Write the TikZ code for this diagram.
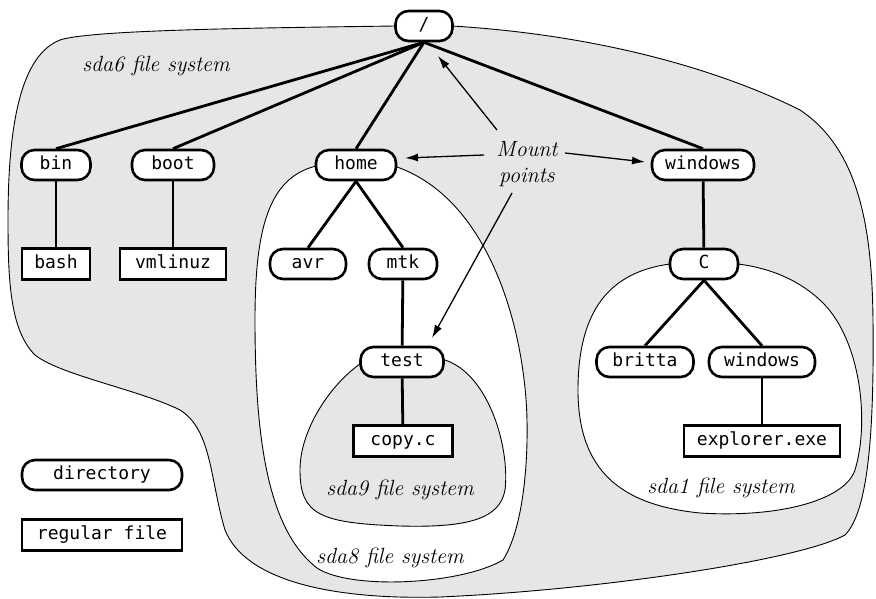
\documentclass[tikz,border=0pt]{standalone}
\usepackage{fontspec}
\newfontfamily\monof{DejaVu Sans Mono}
\usetikzlibrary{arrows.meta}
\definecolor{fsgray}{RGB}{230,230,230}
\begin{document}
\begin{tikzpicture}[x=1pt,y=-1pt,
  dir/.style={draw, line width=2.6pt, fill=white, rounded corners=13pt, minimum height=30pt,
    inner sep=0pt, text height=12.5pt, text depth=3.5pt, font=\monof\fontsize{18}{21}\selectfont},
  file/.style={draw, line width=2.6pt, fill=white, minimum height=31pt,
    inner sep=0pt, text height=12.5pt, text depth=3.5pt, font=\monof\fontsize{18}{21}\selectfont},
  edge/.style={line width=2.8pt},
  region/.style={draw, line width=0.9pt},
  lab/.style={font=\fontsize{22}{26}\selectfont\itshape},
  mp/.style={line width=1.3pt, -{Latex[length=13pt,width=8pt]}}]
\useasboundingbox (0,0) rectangle (876,599);

% file system regions
\path[region, fill=fsgray] (452,26)
  .. controls (600,35) and (720,70) .. (800,110)
  .. controls (860,150) and (872,230) .. (873,320)
  .. controls (874,420) and (870,510) .. (845,535)
  .. controls (800,560) and (600,590) .. (440,597)
  .. controls (330,600) and (245,580) .. (225,530)
  .. controls (210,480) and (212,430) .. (180,410)
  .. controls (140,390) and (60,375) .. (35,355)
  .. controls (10,330) and (8,280) .. (8,220)
  .. controls (8,120) and (22,55) .. (60,40)
  .. controls (90,30) and (250,28) .. (395,26) -- cycle;
\path[region, fill=white] (316,166)
  .. controls (268,178) and (255,230) .. (255,320)
  .. controls (255,440) and (268,530) .. (317,568)
  .. controls (350,590) and (460,585) .. (503,560)
  .. controls (522,530) and (528,470) .. (527,420)
  .. controls (525,330) and (490,200) .. (397,167) -- cycle;
\path[region, fill=fsgray] (360,364)
  .. controls (330,385) and (300,430) .. (300,470)
  .. controls (300,515) and (320,523) .. (400,526)
  .. controls (470,528) and (500,518) .. (505,490)
  .. controls (510,450) and (490,375) .. (445,360) -- cycle;
\path[region, fill=white] (670,264)
  .. controls (610,272) and (578,310) .. (578,390)
  .. controls (578,470) and (620,505) .. (700,513)
  .. controls (780,518) and (845,500) .. (855,470)
  .. controls (870,420) and (860,340) .. (823,303)
  .. controls (800,280) and (770,268) .. (738,264) -- cycle;

% nodes
\node[dir, minimum width=57pt] (root) at (424,26) {/};
\node[dir, minimum width=69pt] (bin) at (56,165) {bin};
\node[dir, minimum width=82pt] (boot) at (173,165) {boot};
\node[dir, minimum width=80pt] (home) at (356,165) {home};
\node[dir, minimum width=102pt] (win) at (703,165) {windows};
\node[file, minimum width=68pt] (bash) at (56,264) {bash};
\node[file, minimum width=106pt] (vmlinuz) at (173,264) {vmlinuz};
\node[dir, minimum width=76pt] (avr) at (308,264) {avr};
\node[dir, minimum width=68pt] (mtk) at (403,264) {mtk};
\node[dir, minimum width=68pt] (C) at (704,264) {C};
\node[dir, minimum width=83pt] (test) at (402,362) {test};
\node[dir, minimum width=97pt] (britta) at (645,362) {britta};
\node[dir, minimum width=106pt] (win2) at (762,362) {windows};
\node[file, minimum width=99pt] (copyc) at (403,441) {copy.c};
\node[file, minimum width=156pt] (explorer) at (762,441) {explorer.exe};
\node[dir, minimum width=160pt] (legdir) at (102,475) {directory};
\node[file, minimum width=160pt] (legfile) at (102,535) {regular file};

% tree edges
\draw[edge] (root.south) -- (bin.north);
\draw[edge] (root.south) -- (boot.north);
\draw[edge] (root.south) -- (home.north);
\draw[edge] (root.south) -- (win.north);
\draw[edge] (bin) -- (bash);
\draw[edge] (boot) -- (vmlinuz);
\draw[edge] (home.south) -- (avr.north);
\draw[edge] (home.south) -- (mtk.north);
\draw[edge] (mtk) -- (test);
\draw[edge] (test) -- (copyc);
\draw[edge] (win) -- (C);
\draw[edge] (C.south) -- (britta.north);
\draw[edge] (C.south) -- (win2.north);
\draw[edge] (win2) -- (explorer);

% labels
\node[lab] (l6) at (156,66) {sda6 file system};
\node[lab] (l9) at (400,490) {sda9 file system};
\node[lab] (l8) at (390,558) {sda8 file system};
\node[lab] (l1) at (721,488) {sda1 file system};
\node[lab, align=center] (mount) at (527,164) {Mount\\points};

% mount point arrows
\coordinate (s1) at (497,130);
\coordinate (t1) at (438,56);
\coordinate (s2) at (484,155);
\coordinate (t2) at (405,158);
\coordinate (s3) at (565,153);
\coordinate (t3) at (645,162);
\coordinate (s4) at (512,193);
\coordinate (t4) at (432,338);
\draw[mp] (s1) -- (t1);
\draw[mp] (s2) -- (t2);
\draw[mp] (s3) -- (t3);
\draw[mp] (s4) -- (t4);
\end{tikzpicture}
\end{document}
